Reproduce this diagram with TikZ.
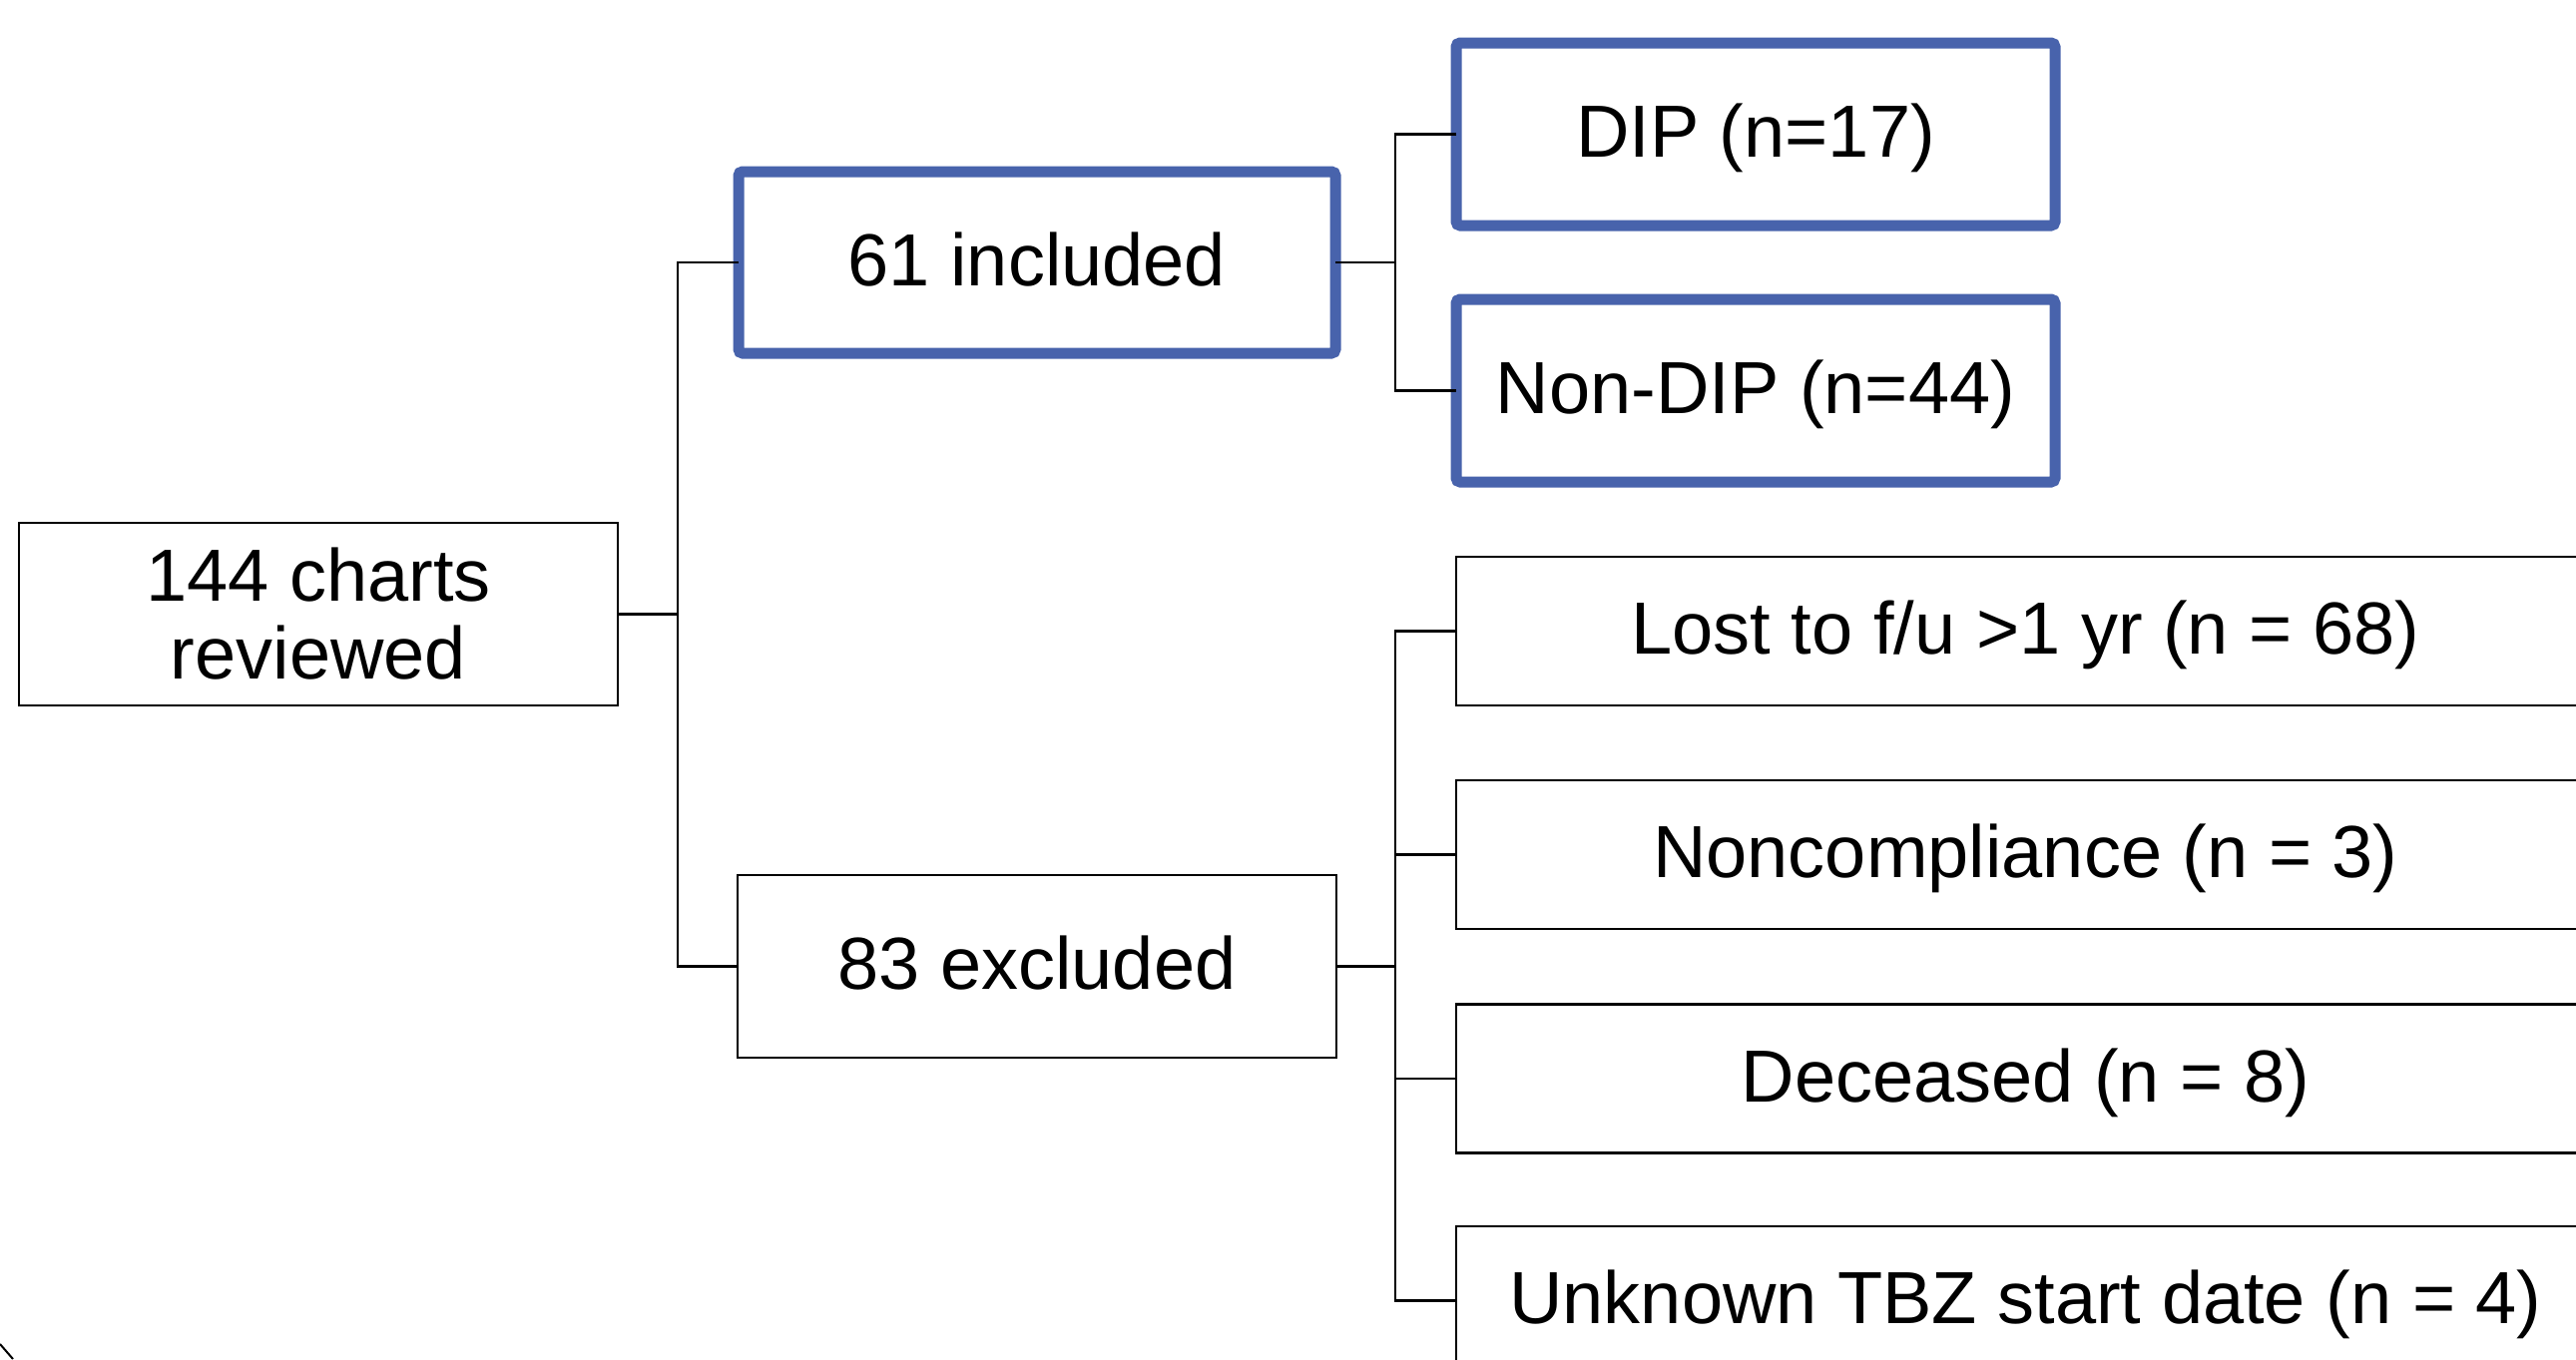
\documentclass[tikz,border=0pt]{standalone}
\usepackage{fontspec}
\setmainfont{Liberation Sans}
\definecolor{boxblue}{RGB}{72,99,172}
\begin{document}
\begin{tikzpicture}[x=0.5pt,y=-0.5pt,
  every node/.style={inner sep=0pt, outer sep=0pt, font=\fontsize{37}{39}\selectfont},
  plainbox/.style={draw=black, line width=1.3pt, fill=white, align=center},
  bluebox/.style={draw=boxblue, line width=5.5pt, rounded corners=2pt, fill=white, align=center},
  oneline/.style={text height=26.5pt, text depth=3.5pt},
  link/.style={draw=black, line width=1.3pt}
]
\useasboundingbox (0,0) rectangle (2581,1362);
\clip (0,0) rectangle (2581,1362);

% nodes
\node[plainbox, minimum width=300pt, minimum height=91.5pt] (root) at (319,615.5) {144 charts\\reviewed};
\node[bluebox, oneline, minimum width=299pt, minimum height=91pt] (inc) at (1039,263) {61 included};
\node[plainbox, oneline, minimum width=300pt, minimum height=91.5pt] (exc) at (1039,968.5) {83 excluded};
\node[bluebox, oneline, minimum width=300pt, minimum height=91.5pt] (dip) at (1759,134.5) {DIP (n=17)};
\node[bluebox, oneline, minimum width=300pt, minimum height=91.5pt] (nondip) at (1759,391.5) {Non-DIP (n=44)};
\node[plainbox, oneline, minimum width=570.5pt, minimum height=74.5pt] (lost) at (2029.5,632.5) {Lost to f/u >1 yr (n = 68)};
\node[plainbox, oneline, minimum width=570.5pt, minimum height=74.5pt] (nonc) at (2029.5,856.5) {Noncompliance (n = 3)};
\node[plainbox, oneline, minimum width=570.5pt, minimum height=74.5pt] (dec) at (2029.5,1081) {Deceased (n = 8)};
\node[plainbox, oneline, minimum width=570.5pt, minimum height=74.5pt] (unk) at (2029.5,1303.5) {Unknown TBZ start date (n = 4)};

% junctions
\coordinate (j1) at (679,615.5);
\coordinate (j2) at (1398,263);
\coordinate (j3) at (1398,968.5);

% connectors
\draw[link] (root.east) -- (j1);
\draw[link] (inc.west) -| (j1) |- (exc.west);
\draw[link] (inc.east) -- (j2);
\draw[link] (dip.west) -| (j2) |- (nondip.west);
\draw[link] (exc.east) -- (j3);
\draw[link] (lost.west) -| (j3) |- (unk.west);
\draw[link] (nonc.west) -- (nonc.west -| j3);
\draw[link] (dec.west) -- (dec.west -| j3);

% small stroke at lower left corner
\coordinate (s1) at (0,1347);
\coordinate (s2) at (13,1362);
\draw[line width=1pt] (s1) -- (s2);
\end{tikzpicture}
\end{document}
